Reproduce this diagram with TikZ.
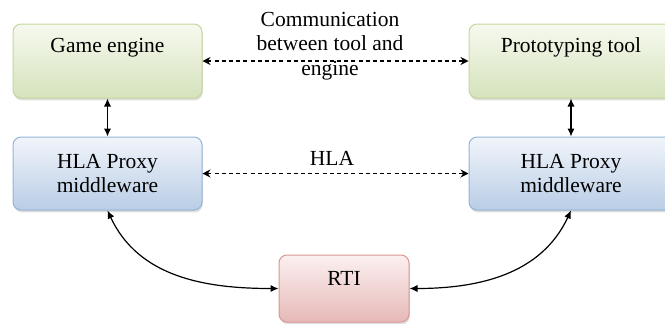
\documentclass[tikz,border=0pt]{standalone}
\usepackage{fontspec}
\setmainfont{LiberationSerif-Regular.ttf}[BoldFont=LiberationSerif-Bold.ttf]
\usetikzlibrary{arrows.meta,shadows}
\definecolor{gtop}{HTML}{F6F9EF}
\definecolor{gbot}{HTML}{D6E3BC}
\definecolor{gdraw}{HTML}{C3D69B}
\definecolor{btop}{HTML}{F1F5FB}
\definecolor{bbot}{HTML}{B9CDE5}
\definecolor{bdraw}{HTML}{95B3D7}
\definecolor{rtop}{HTML}{FCF0F0}
\definecolor{rbot}{HTML}{E6B9B8}
\definecolor{rdraw}{HTML}{D99694}
\tikzset{
  box/.style={rounded corners=4pt, line width=0.5pt, align=center,
    font=\fontsize{10.75}{12.5}\selectfont,
    drop shadow={shadow xshift=0.4pt, shadow yshift=-1.2pt, opacity=0.25}},
  greenbox/.style={box, draw=gdraw, top color=gtop, bottom color=gbot,
    minimum width=94.5pt, minimum height=37pt, text height=8pt, text depth=17pt},
  bluebox/.style={box, draw=bdraw, top color=btop, bottom color=bbot,
    minimum width=94.5pt, minimum height=36.5pt},
  redbox/.style={box, draw=rdraw, top color=rtop, bottom color=rbot,
    minimum width=65pt, minimum height=33.5pt, text height=8pt, text depth=11.5pt},
  solidarrow/.style={line width=0.6pt, {Latex[length=4pt,width=3.6pt]}-{Latex[length=4pt,width=3.6pt]}},
  dasharrow/.style={line width=0.6pt, dash pattern=on 2pt off 1.6pt,
    {Stealth[length=4pt,width=4pt]}-{Stealth[length=4pt,width=4pt]}},
  lbl/.style={align=center, font=\fontsize{10.75}{12.3}\selectfont}
}
\begin{document}
\begin{tikzpicture}[x=0.5pt,y=-0.5pt]
\useasboundingbox (0,0) rectangle (665,323);
\node[greenbox] (game) at (107.5,61) {Game engine};
\node[greenbox, minimum width=102pt] (proto) at (571,61) {Prototyping tool};
\node[bluebox] (hlal) at (107.5,173.5) {HLA Proxy\\middleware};
\node[bluebox, minimum width=102pt] (hlar) at (571,173.5) {HLA Proxy\\middleware};
\node[redbox] (rti) at (344,288.5) {RTI};
\node[lbl] (comm) at (330,46) {Communication\\between tool and\\engine};
\node[lbl] (hla) at (332,158) {HLA};
\draw[dasharrow] (game.east) -- (proto.west);
\draw[dasharrow] (hlal.east) -- (hlar.west);
\draw[solidarrow] (game.south) -- (hlal.north);
\draw[solidarrow] (proto.south) -- (hlar.north);
\draw[solidarrow] (hlal.south) to[out=-65,in=180] (rti.west);
\draw[solidarrow] (hlar.south) to[out=-115,in=0] (rti.east);
\end{tikzpicture}
\end{document}
